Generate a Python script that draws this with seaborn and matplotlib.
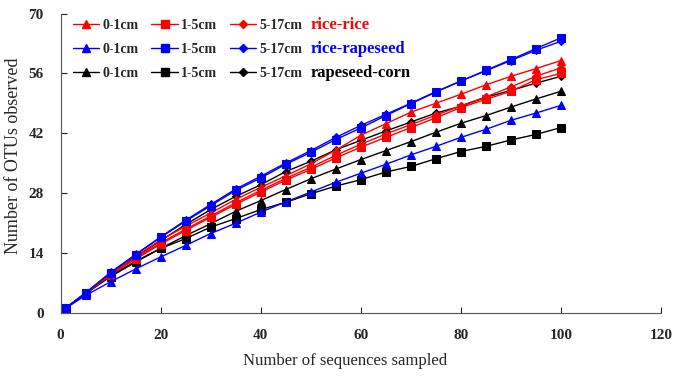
import matplotlib
matplotlib.use("Agg")
import matplotlib.pyplot as plt
from matplotlib.lines import Line2D
import seaborn as sns
import pandas as pd

# sequences sampled
x = [1, 5, 10, 15, 20, 25, 30, 35, 40, 45, 50, 55, 60, 65, 70, 75, 80, 85, 90, 95, 100]

# OTUs observed
rr_01 = [1, 4.5, 9.0, 13.1, 17.0, 20.2, 23.3, 26.5, 29.3, 32.0, 34.8, 38.0, 41.5, 44.2, 46.9, 49.0, 51.1, 53.3, 55.3, 57.1, 59.0]
rr_15 = [1, 4.5, 8.8, 12.5, 16.0, 19.2, 22.3, 25.3, 28.2, 31.0, 33.5, 36.2, 38.7, 41.0, 43.3, 45.6, 48.0, 49.9, 51.8, 54.5, 56.0]
rr_517 = [1, 4.5, 8.9, 12.7, 16.3, 19.5, 22.6, 25.7, 28.6, 31.4, 34.0, 36.8, 39.4, 41.8, 44.0, 46.2, 48.4, 50.5, 52.8, 55.3, 57.3]
rp_01 = [1, 4.0, 7.2, 10.2, 13.0, 15.7, 18.5, 20.9, 23.5, 25.9, 28.2, 30.5, 32.6, 34.7, 36.9, 38.9, 41.0, 42.9, 45.0, 46.7, 48.5]
rp_15 = [1, 4.6, 9.3, 13.5, 17.6, 21.4, 25.0, 28.6, 31.5, 34.7, 37.5, 40.5, 43.2, 46.1, 48.9, 51.6, 54.2, 56.7, 59.2, 61.8, 64.3]
rp_517 = [1, 4.6, 9.4, 13.6, 17.7, 21.6, 25.3, 28.9, 31.9, 35.0, 37.9, 41.0, 43.8, 46.4, 49.0, 51.7, 54.2, 56.6, 59.0, 61.4, 63.5]
rc_01 = [1, 4.4, 8.4, 11.8, 15.0, 18.0, 20.8, 23.7, 26.2, 28.8, 31.3, 33.6, 35.8, 37.9, 40.0, 42.2, 44.3, 46.1, 48.1, 50.0, 51.8]
rc_15 = [1, 4.5, 8.6, 12.0, 15.0, 17.3, 20.0, 22.0, 24.1, 25.8, 27.8, 29.6, 31.1, 32.9, 34.2, 36.0, 37.7, 38.9, 40.4, 41.7, 43.3]
rc_517 = [1, 4.5, 9.0, 13.0, 16.8, 20.6, 24.1, 27.2, 29.9, 33.0, 35.4, 38.1, 40.3, 42.5, 44.6, 46.7, 48.3, 50.4, 52.0, 53.7, 55.3]

groups = ["rice-rice", "rice-rapeseed", "rapeseed-corn"]
depths = ["0-1cm", "1-5cm", "5-17cm"]
group_colors = {"rice-rice": "#ff0000", "rice-rapeseed": "#0000ff", "rapeseed-corn": "#000000"}
depth_markers = {"0-1cm": "^", "1-5cm": "s", "5-17cm": "D"}
depth_sizes = {"0-1cm": 6, "1-5cm": 6, "5-17cm": 4.5}

series = {
    ("rice-rice", "0-1cm"): rr_01, ("rice-rice", "1-5cm"): rr_15, ("rice-rice", "5-17cm"): rr_517,
    ("rice-rapeseed", "0-1cm"): rp_01, ("rice-rapeseed", "1-5cm"): rp_15, ("rice-rapeseed", "5-17cm"): rp_517,
    ("rapeseed-corn", "0-1cm"): rc_01, ("rapeseed-corn", "1-5cm"): rc_15, ("rapeseed-corn", "5-17cm"): rc_517,
}

rows = []
for (g, d), vals in series.items():
    for xi, yi in zip(x, vals):
        rows.append({"group": g, "depth": d, "seqs": xi, "otus": yi})
df = pd.DataFrame(rows)

sns.set_style("ticks")
plt.rcParams["font.family"] = ["Liberation Serif", "DejaVu Serif"]

fig = plt.figure(figsize=(6.8, 3.77), dpi=100)
ax = fig.add_axes([0.089, 0.171, 0.883, 0.793])

# draw order: black below, then red, blue on top
for g in ["rapeseed-corn", "rice-rice", "rice-rapeseed"]:
    for d in depths:
        sub = df[(df.group == g) & (df.depth == d)]
        sns.lineplot(data=sub, x="seqs", y="otus", ax=ax, color=group_colors[g],
                     marker=depth_markers[d], markersize=depth_sizes[d],
                     markeredgecolor=group_colors[g], linewidth=1.0, legend=False)

ax.set_xlim(0, 120)
ax.set_ylim(0, 70)
ax.set_xticks(range(0, 121, 20))
ax.set_yticks(range(0, 71, 14))
ax.tick_params(direction="in", length=4, width=0.8, labelsize=11, pad=12)
for lab in ax.get_xticklabels() + ax.get_yticklabels():
    lab.set_fontweight("bold")
sns.despine(ax=ax)
for s in ["left", "bottom"]:
    ax.spines[s].set_color("#555555")
    ax.spines[s].set_linewidth(0.8)

ax.set_xlabel("Number of sequences sampled", fontsize=12, labelpad=8, x=0.474)
ax.set_ylabel("Number of OTUs observed", fontsize=13, labelpad=5, y=0.525)

# legend: rows = groups, columns = depths
handles, labels = [], []
for d in depths:
    for g in groups:
        handles.append(Line2D([], [], color=group_colors[g], marker=depth_markers[d],
                              markersize=depth_sizes[d], linewidth=1.0))
        labels.append(d)

ax.legend(handles, labels, ncol=3, loc="upper left",
          bbox_to_anchor=(73 / 680, 1 - 19 / 377), bbox_transform=fig.transFigure,
          frameon=False, borderpad=0, borderaxespad=0,
          handlelength=1.9, handletextpad=0.25, columnspacing=0.9,
          labelspacing=0.8, prop={"weight": "bold", "size": 10})

for i, g in enumerate(groups):
    fig.text(311 / 680, 1 - (25 + 24 * i) / 377, g, color=group_colors[g],
             fontsize=12, fontweight="bold", va="center", ha="left")

fig.savefig("out.png", dpi=100)
